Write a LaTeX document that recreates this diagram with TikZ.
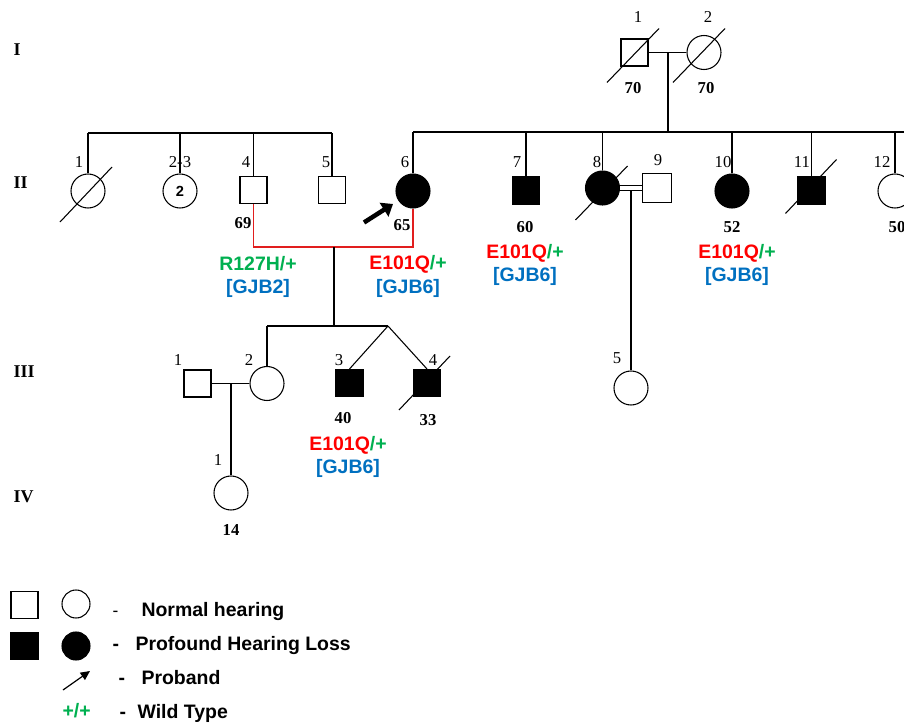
\documentclass[tikz,border=0pt]{standalone}
\usepackage{fontspec}
\setmainfont{Liberation Serif}
\setsansfont{Liberation Sans}
\usetikzlibrary{calc,arrows.meta}
\definecolor{mutred}{RGB}{255,0,0}
\definecolor{linered}{RGB}{225,30,30}
\definecolor{wtgreen}{RGB}{0,176,80}
\definecolor{geneblue}{RGB}{0,112,192}
\tikzset{
  male/.style={draw,rectangle,minimum size=20.25pt,inner sep=0pt},
  female/.style={draw,circle,minimum size=25.5pt,inner sep=0pt},
  hit/.style={fill=black},
  idnum/.style={inner sep=0.75pt,font=\fontsize{12.5}{15}\selectfont},
  age/.style={inner sep=0.75pt,font=\bfseries\fontsize{12.5}{15}\selectfont},
  gen/.style={anchor=west,inner sep=0pt,font=\bfseries\fontsize{13.5}{16}\selectfont},
  geno/.style={inner sep=0.75pt,font=\sffamily\bfseries\fontsize{14.6}{17}\selectfont},
  legtxt/.style={anchor=base west,inner sep=0pt,font=\sffamily\bfseries\fontsize{14.6}{17}\selectfont},
  redline/.style={color=linered,line width=0.8pt},
}
\newcommand{\mut}{\textcolor{mutred}{E101Q}\textcolor{wtgreen}{/+}}
\begin{document}
\begin{tikzpicture}[x=0.75pt,y=0.75pt,yscale=-1,xscale=1,line width=0.8pt]
    \useasboundingbox (0,0) rectangle (904,724);
    \clip (0,0) rectangle (904,724);

    % Generations
    \draw (13,50) node (gI) [gen] {I};
    \draw (13,183) node (gII) [gen] {II};
    \draw (13,372) node (gIII) [gen] {III};
    \draw (13,497) node (gIV) [gen] {IV};

    %Shape: Square [I-1]
    \draw (634.5,52.5) node (I1) [male] {};
    \draw ($(I1)+(-27.5,30)$) -- ($(I1)+(24.5,-24)$);
    %Shape: Circle [I-2]
    \draw (704,52.5) node (I2) [female] {};
    \draw ($(I2)+(-31,30)$) -- ($(I2)+(21,-24)$);
    %Straight Lines
    \draw (I1) -- (I2);
    \coordinate (mI) at (668,52.5);
    \coordinate (sII) at (668,132);
    \draw (mI) -- (sII);
    \coordinate (sIIl) at (413,132);
    \coordinate (sIIr) at (904,132);
    \draw (sIIl) -- (sIIr);

    %Shape: Circle [II-1]
    \draw (88,191) node (II1) [female] {};
    \draw ($(II1)+(-28,31)$) -- ($(II1)+(24,-24)$);
    %Shape: Circle [II-2-3]
    \draw (180,191) node (II23) [female,font=\sffamily\bfseries\fontsize{11}{13}\selectfont] {2};
    %Shape: Square [II-4]
    \draw (253.5,190) node (II4) [male] {};
    %Shape: Square [II-5]
    \draw (332,190) node (II5) [male] {};
    %Straight Lines
    \coordinate (sAl) at (88,133);
    \coordinate (sAr) at (332,133);
    \draw (sAl) -- (sAr);
    \foreach \n in {II1,II23,II4,II5}
      \draw (\n |- sAl) -- (\n);

    %Shape: Circle [II-6]
    \draw (413,191) node (II6) [female,hit] {};
    %Shape: Square [II-7]
    \draw (526,190.5) node (II7) [male,hit] {};
    %Shape: Circle [II-8]
    \draw (602.5,188) node (II8) [female,hit] {};
    \draw ($(II8)+(-27,32)$) -- ($(II8)+(25,-22)$);
    %Shape: Square [II-9]
    \draw (657,188) node (II9) [male,minimum size=21.5pt] {};
    %Shape: Circle [II-10]
    \draw (732,191) node (II10) [female,hit] {};
    %Shape: Square [II-11]
    \draw (811.5,190.5) node (II11) [male,hit] {};
    \draw ($(II11)+(-26,23)$) -- ($(II11)+(25,-31)$);
    %Shape: Circle [II-12]
    \draw (895,191) node (II12) [female] {};
    %Straight Lines
    \foreach \n in {II6,II7,II8,II10,II11,II12}
      \draw (\n |- sIIl) -- (\n);
    \draw [double,double distance=3.6pt,line width=0.7pt] (II8) -- (II9);
    \coordinate (mII) at (631,191);

    %Straight Lines [II-4 x II-6]
    \coordinate (cpl) at (334,247);
    \draw [redline] (II4) |- (cpl) -| (II6);
    \coordinate (sIIIr) at (388,326);
    \coordinate (sIIIl) at (267,326);
    \draw (cpl) -- (cpl |- sIIIl);
    \draw (sIIIl) -- (sIIIr);

    %Shape: Square [III-1]
    \draw (197.5,383.5) node (III1) [male] {};
    %Shape: Circle [III-2]
    \draw (267,383.5) node (III2) [female] {};
    %Shape: Square [III-3]
    \draw (349.5,383) node (III3) [male,hit] {};
    %Shape: Square [III-4]
    \draw (427,383) node (III4) [male,hit] {};
    \draw ($(III4)+(-28,27)$) -- ($(III4)+(23,-27)$);
    %Shape: Circle [III-5]
    \draw (631,388) node (III5) [female] {};
    %Straight Lines
    \draw (sIIIl) -- (III2);
    \draw (sIIIr) -- (III3.north);
    \draw (sIIIr) -- (III4.north);
    \draw (III1) -- (III2);
    \draw (mII) -- (III5);

    %Shape: Circle [IV-1]
    \draw (231,493) node (IV1) [female] {};
    \coordinate (mIII) at (230,383.5);
    \draw (mIII) -- (IV1 |- mIII) -- (IV1);

    % Proband arrow
    \coordinate (pa) at (364,222.5);
    \coordinate (pb) at (393,204);
    \draw [-{Triangle[length=8pt,width=12pt]},line width=3.4pt] (pa) -- (pb);

    % Text Node: ids
    \draw (638,17) node (nI1) [idnum] {1};
    \draw (708,17) node (nI2) [idnum] {2};
    \draw (79,162) node (nII1) [idnum] {1};
    \draw (180,162) node (nII23) [idnum] {2-3};
    \draw (246,162) node (nII4) [idnum] {4};
    \draw (326,162) node (nII5) [idnum] {5};
    \draw (405,162) node (nII6) [idnum] {6};
    \draw (517,162) node (nII7) [idnum] {7};
    \draw (597,162) node (nII8) [idnum] {8};
    \draw (658,160) node (nII9) [idnum] {9};
    \draw (723,162) node (nII10) [idnum] {10};
    \draw (802,162) node (nII11) [idnum] {11};
    \draw (882,162) node (nII12) [idnum] {12};
    \draw (178,360) node (nIII1) [idnum] {1};
    \draw (249,360) node (nIII2) [idnum] {2};
    \draw (339,360) node (nIII3) [idnum] {3};
    \draw (433,360) node (nIII4) [idnum] {4};
    \draw (617,358) node (nIII5) [idnum] {5};
    \draw (218,460) node (nIV1) [idnum] {1};

    % Text Node: ages
    \draw (633,88) node (aI1) [age] {70};
    \draw (706,88) node (aI2) [age] {70};
    \draw (243,223) node (aII4) [age] {69};
    \draw (402,225) node (aII6) [age] {65};
    \draw (525,227) node (aII7) [age] {60};
    \draw (732,227) node (aII10) [age] {52};
    \draw (897,227) node (aII12) [age] {50};
    \draw (343,418) node (aIII3) [age] {40};
    \draw (428,420) node (aIII4) [age] {33};
    \draw (231,530) node (aIV1) [age] {14};

    % Text Node: genotypes
    \draw (258,264) node (gtII4) [geno,text=wtgreen] {R127H/+};
    \draw (258,288) node (gnII4) [geno,text=geneblue] {[GJB2]};
    \draw (408,264) node (gtII6) [geno] {\mut};
    \draw (408,288) node (gnII6) [geno,text=geneblue] {[GJB6]};
    \draw (525,253) node (gtII7) [geno] {\mut};
    \draw (525,276) node (gnII7) [geno,text=geneblue] {[GJB6]};
    \draw (737,253) node (gtII10) [geno] {\mut};
    \draw (737,276) node (gnII10) [geno,text=geneblue] {[GJB6]};
    \draw (348,445) node (gtIII3) [geno] {\mut};
    \draw (348,468) node (gnIII3) [geno,text=geneblue] {[GJB6]};

    % Legend
    \draw (24.5,605) node (lgm) [male] {};
    \draw (76,604) node (lgf) [female,minimum size=21pt] {};
    \draw (24.5,646) node (lgma) [male,hit] {};
    \draw (76,646) node (lgfa) [female,hit,minimum size=21pt] {};
    \coordinate (la) at (63,690);
    \coordinate (lb) at (90,671);
    \draw [-{Triangle[length=7pt,width=6.5pt]},line width=0.9pt] (la) -- (lb);
    \draw (62,717) node (lgwt) [legtxt,text=wtgreen] {+/+};
    \draw (112,616) node (d1) [legtxt,font=\sffamily\fontsize{13}{15}\selectfont] {-};
    \draw (141,616) node (t1) [legtxt] {Normal hearing};
    \draw (112,650) node (d2) [legtxt] {-};
    \draw (135,650) node (t2) [legtxt] {Profound Hearing Loss};
    \draw (118,684) node (d3) [legtxt] {-};
    \draw (141,684) node (t3) [legtxt] {Proband};
    \draw (119,718) node (d4) [legtxt] {-};
    \draw (137,718) node (t4) [legtxt] {Wild Type};
\end{tikzpicture}
\end{document}
